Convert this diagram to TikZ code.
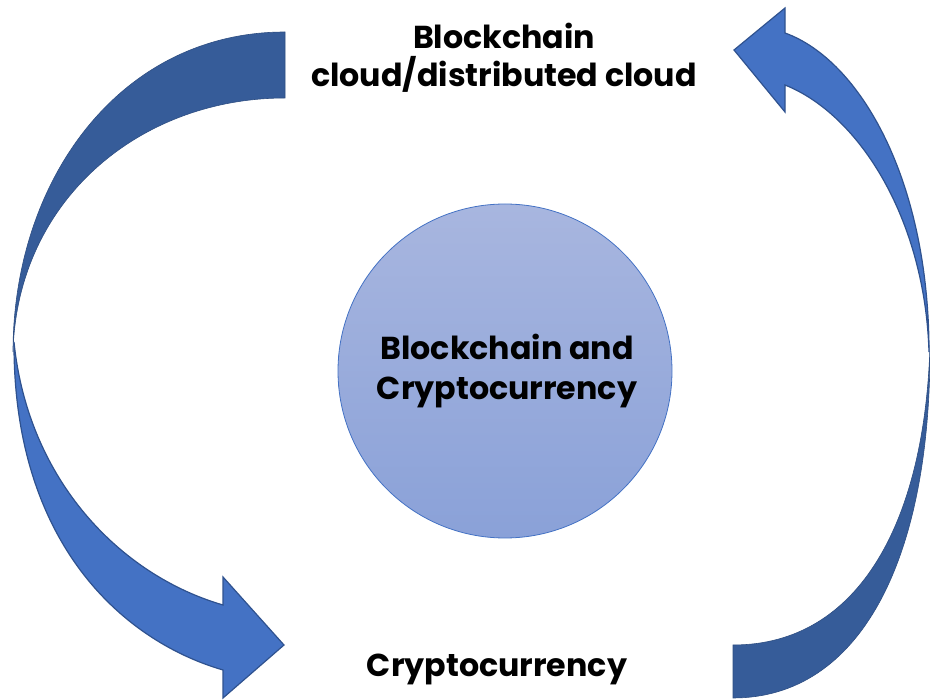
\documentclass[tikz,border=0pt]{standalone}
\usepackage{fontspec}
\setmainfont{Poppins}
\usepackage{tikz}
\usetikzlibrary{positioning}

\definecolor{frontblue}{HTML}{4472C4}
\definecolor{backblue}{HTML}{365C99}
\definecolor{edgeblue}{HTML}{2F528F}
\definecolor{discTop}{HTML}{A8B6DF}
\definecolor{discBot}{HTML}{8AA1D8}

\begin{document}
\begin{tikzpicture}[x=1pt, y=-1pt,
    label text/.style={font=\fontsize{31.7}{40}\selectfont\bfseries, align=center, inner sep=0pt, anchor=base},
    front face/.style={fill=frontblue, draw=edgeblue, line width=1.2pt, line join=miter},
    back face/.style={fill=backblue, draw=backblue!85!black, line width=0.6pt}]
  \useasboundingbox (0,0) rectangle (930,700);

  % left arrow: back face then front face with head
  \draw[back face] (285,32) .. controls (120,32) and (13,180) .. (13,352)
    .. controls (17,200) and (140,98) .. (285,98) -- cycle;
  \draw[front face] (14,342) .. controls (13,540) and (120,640) .. (223,670)
    -- (223,698) -- (284,645) -- (223,577) -- (223,605)
    .. controls (120,575) and (28,480) .. (14,342) -- cycle;

  % right arrow: back face then front face with head
  \draw[back face] (733,645) .. controls (860,645) and (925,520) .. (930,345)
    .. controls (931,560) and (860,698) .. (733,698) -- cycle;
  \draw[front face] (785,33) .. controls (860,60) and (929,180) .. (929,352)
    .. controls (925,220) and (860,115) .. (785,85)
    -- (785,112) -- (734,50) -- (785,8) -- cycle;

  % centre disc
  \node[circle, minimum size=334pt, top color=discTop, bottom color=discBot,
        draw=frontblue, line width=0.8pt] (hub) at (505,371) {};

  \node[label text] (hubtop) at (507,360) {Blockchain and};
  \node[label text] (hubbot) at (507,400) {Cryptocurrency};
  \node[label text] (cloudtop) at (504,49) {Blockchain};
  \node[label text] (cloudbot) at (504,87) {cloud/distributed cloud};
  \node[label text] (crypto) at (497,676) {Cryptocurrency};
\end{tikzpicture}
\end{document}
